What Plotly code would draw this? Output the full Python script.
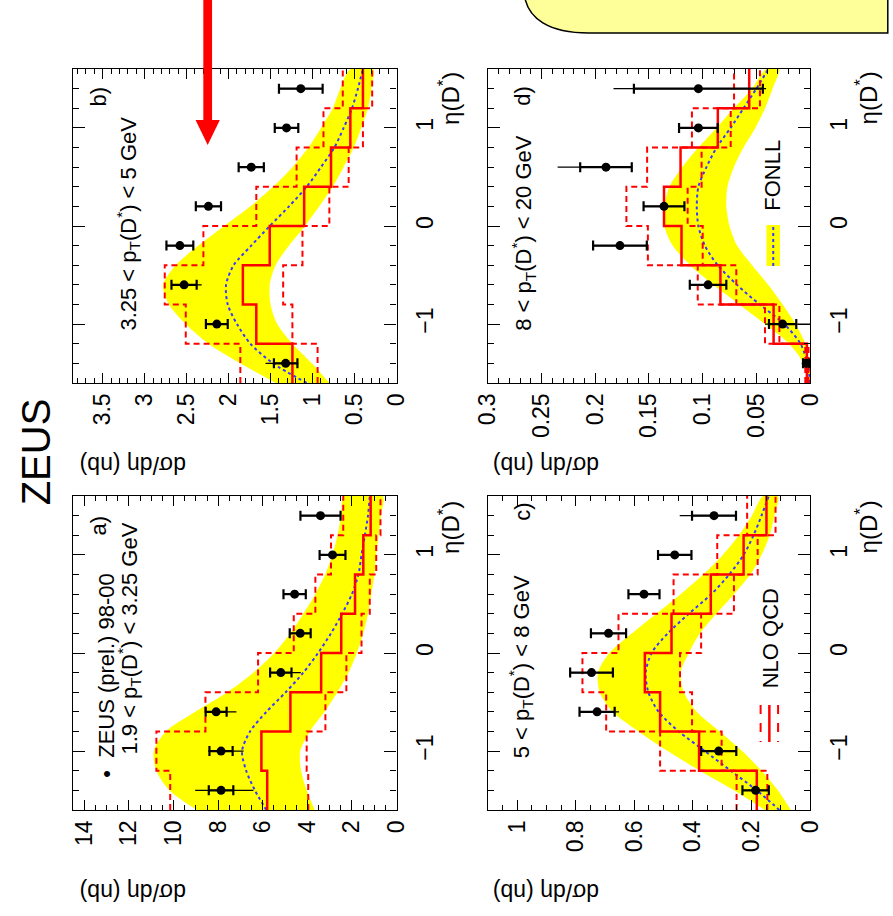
import plotly.graph_objects as go

W, H = 893, 916
FONT = "Liberation Sans, Arial, Helvetica, sans-serif"

def px(x):
    return x / W

def py(y):
    return 1 - y / H

# ---------------- data ----------------
edges = [-1.6, -1.2, -0.8, -0.4, 0.0, 0.4, 0.8, 1.2, 1.6]
eta_pts = [-1.4, -1.0, -0.6, -0.2, 0.2, 0.6, 1.0, 1.4]
eta_band = [-1.6, -1.4, -1.2, -1.0, -0.8, -0.6, -0.4, -0.2, 0.0,
            0.2, 0.4, 0.6, 0.8, 1.0, 1.2, 1.4, 1.6]

# panel a) 1.9 < pT < 3.25 GeV
a_val = [7.87, 7.87, 8.09, 5.19, 4.32, 4.57, 2.87, 3.41]
a_stat = [0.55, 0.52, 0.47, 0.48, 0.47, 0.50, 0.58, 0.90]
a_tot_up = [1.16, 0.58, 0.50, 0.50, 0.47, 0.50, 0.58, 0.90]
a_tot_dn = [1.45, 1.01, 0.91, 0.90, 0.47, 0.50, 0.58, 0.90]
a_nlo = [5.80, 6.06, 4.76, 3.38, 2.48, 1.86, 1.49, 1.16]
a_nlo_up = [10.15, 10.77, 8.57, 6.21, 4.61, 3.64, 2.94, 2.39]
a_nlo_dn = [3.96, 4.03, 3.19, 2.25, 1.57, 1.20, 0.91, 0.72]
a_fonll_up = [8.96, 10.19, 10.77, 10.89, 10.34, 9.03, 7.58, 6.42, 5.48,
              4.76, 4.18, 3.64, 3.20, 2.87, 2.65, 2.48, 2.36]
a_fonll_dn = [3.67, 4.03, 4.28, 4.32, 3.89, 3.23, 2.65, 2.15, 1.78,
              1.49, 1.28, 1.13, 0.99, 0.91, 0.80, 0.70, 0.62]
a_fonll = [5.84, 6.35, 6.74, 6.93, 6.57, 5.84, 4.97, 4.18, 3.52,
           2.94, 2.44, 2.00, 1.71, 1.57, 1.42, 1.28, 1.20]

# panel b) 3.25 < pT < 5 GeV
b_val = [1.32, 2.14, 2.53, 2.58, 2.24, 1.73, 1.31, 1.14]
b_stat = [0.14, 0.13, 0.15, 0.16, 0.15, 0.15, 0.14, 0.26]
b_tot_up = [0.24, 0.13, 0.15, 0.16, 0.15, 0.15, 0.14, 0.26]
b_tot_dn = [0.15, 0.13, 0.21, 0.16, 0.15, 0.15, 0.14, 0.26]
b_nlo = [1.24, 1.67, 1.83, 1.51, 1.10, 0.78, 0.55, 0.40]
b_nlo_up = [1.86, 2.51, 2.76, 2.30, 1.67, 1.19, 0.87, 0.64]
b_nlo_dn = [0.94, 1.24, 1.35, 1.12, 0.80, 0.57, 0.40, 0.29]
b_fonll_up = [1.44, 1.86, 2.24, 2.51, 2.71, 2.78, 2.63, 2.36, 2.05,
              1.74, 1.47, 1.24, 1.05, 0.90, 0.76, 0.67, 0.55]
b_fonll_dn = [0.80, 1.01, 1.24, 1.42, 1.50, 1.51, 1.44, 1.28, 1.09,
              0.92, 0.76, 0.63, 0.51, 0.42, 0.34, 0.30, 0.28]
b_fonll = [1.07, 1.47, 1.74, 1.90, 2.01, 2.03, 1.94, 1.73, 1.51,
           1.28, 1.07, 0.90, 0.74, 0.63, 0.53, 0.46, 0.40]

# panel c) 5 < pT < 8 GeV
c_val = [0.186, 0.312, 0.727, 0.746, 0.688, 0.567, 0.462, 0.328]
c_stat = [0.045, 0.060, 0.060, 0.073, 0.060, 0.053, 0.057, 0.075]
c_tot_up = [0.045, 0.060, 0.060, 0.073, 0.060, 0.053, 0.057, 0.117]
c_tot_dn = [0.045, 0.060, 0.075, 0.073, 0.060, 0.053, 0.057, 0.075]
c_nlo = [0.182, 0.379, 0.512, 0.564, 0.473, 0.339, 0.227, 0.149]
c_nlo_up = [0.251, 0.512, 0.696, 0.777, 0.654, 0.466, 0.317, 0.215]
c_nlo_dn = [0.146, 0.302, 0.403, 0.444, 0.372, 0.260, 0.179, 0.118]
c_fonll_up = [0.155, 0.260, 0.376, 0.486, 0.586, 0.674, 0.718, 0.724, 0.685,
              0.608, 0.525, 0.442, 0.365, 0.298, 0.243, 0.199, 0.160]
c_fonll_dn = [0.066, 0.110, 0.166, 0.232, 0.309, 0.387, 0.431, 0.442, 0.414,
              0.376, 0.320, 0.260, 0.204, 0.166, 0.138, 0.122, 0.110]
c_fonll = [0.105, 0.182, 0.271, 0.359, 0.448, 0.517, 0.552, 0.561, 0.541,
           0.486, 0.414, 0.337, 0.276, 0.227, 0.193, 0.166, 0.141]

# panel d) 8 < pT < 20 GeV
d_val = [0.0036, 0.0256, 0.095, 0.177, 0.136, 0.190, 0.104, 0.104]
d_stat = [0.003, 0.0127, 0.017, 0.025, 0.019, 0.024, 0.018, 0.060]
d_tot_up = [0.003, 0.0164, 0.017, 0.025, 0.019, 0.045, 0.018, 0.079]
d_tot_dn = [0.003, 0.0256, 0.017, 0.025, 0.019, 0.024, 0.018, 0.063]
d_nlo = [0.003, 0.034, 0.0835, 0.1197, 0.136, 0.1206, 0.0859, 0.0567]
d_nlo_up = [0.0045, 0.042, 0.1046, 0.151, 0.171, 0.1517, 0.110, 0.0708]
d_nlo_dn = [0.0015, 0.0286, 0.0687, 0.100, 0.114, 0.101, 0.0739, 0.0467]
d_fonll_up = [0.0006, 0.006, 0.0196, 0.042, 0.066, 0.090, 0.1115, 0.128, 0.1357,
              0.1357, 0.131, 0.119, 0.104, 0.087, 0.071, 0.054, 0.041]
d_fonll_dn = [0.0, 0.0006, 0.0045, 0.0136, 0.0256, 0.039, 0.054, 0.068, 0.075,
              0.078, 0.077, 0.071, 0.062, 0.051, 0.042, 0.035, 0.029]
d_fonll = [0.0, 0.0024, 0.009, 0.024, 0.047, 0.068, 0.086, 0.098, 0.104,
           0.1055, 0.104, 0.0965, 0.087, 0.074, 0.062, 0.050, 0.039]

panel_labels = ["a)", "b)", "c)", "d)"]
pt_labels = ["1.9 < p<sub>T</sub>(D<sup>*</sup>) < 3.25 GeV",
             "3.25 < p<sub>T</sub>(D<sup>*</sup>) < 5 GeV",
             "5 < p<sub>T</sub>(D<sup>*</sup>) < 8 GeV",
             "8 < p<sub>T</sub>(D<sup>*</sup>) < 20 GeV"]

# ---------------- layout geometry (pixels) ----------------
panels = {
    "a": dict(ax="", box=(61, 394, 496, 810), vmax=14.5, dtick=2, minor=0.5),
    "b": dict(ax="2", box=(61, 394, 69, 383), vmax=3.85, dtick=0.5, minor=0.1),
    "c": dict(ax="3", box=(488, 820, 496, 810), vmax=1.1, dtick=0.2, minor=0.05),
    "d": dict(ax="4", box=(488, 820, 69, 383), vmax=0.3, dtick=0.05, minor=0.01),
}
series = {
    "a": (a_val, a_stat, a_tot_up, a_tot_dn, a_nlo, a_nlo_up, a_nlo_dn, a_fonll_up, a_fonll_dn, a_fonll),
    "b": (b_val, b_stat, b_tot_up, b_tot_dn, b_nlo, b_nlo_up, b_nlo_dn, b_fonll_up, b_fonll_dn, b_fonll),
    "c": (c_val, c_stat, c_tot_up, c_tot_dn, c_nlo, c_nlo_up, c_nlo_dn, c_fonll_up, c_fonll_dn, c_fonll),
    "d": (d_val, d_stat, d_tot_up, d_tot_dn, d_nlo, d_nlo_up, d_nlo_dn, d_fonll_up, d_fonll_dn, d_fonll),
}


def step(vals):
    xs, ys = [], []
    for i, v in enumerate(vals):
        xs += [v, v]
        ys += [edges[i], edges[i + 1]]
    return xs, ys


fig = go.Figure()
RED = "#ff0000"
BLUE = "#3a3aff"
YEL = "#ffff00"

for key, p in panels.items():
    val, stat, tup, tdn, nlo, nup, ndn, fup, fdn, fc = series[key]
    xa = "x" + p["ax"]
    ya = "y" + p["ax"]
    # FONLL band
    fig.add_trace(go.Scatter(x=fup + fdn[::-1], y=eta_band + eta_band[::-1],
                             fill="toself", fillcolor=YEL, mode="lines",
                             line=dict(width=0, shape="spline", smoothing=0.8),
                             xaxis=xa, yaxis=ya, showlegend=False, hoverinfo="skip"))
    fig.add_trace(go.Scatter(x=fc, y=eta_band, mode="lines",
                             line=dict(color=BLUE, width=2, dash="dot", shape="spline", smoothing=0.8),
                             xaxis=xa, yaxis=ya, showlegend=False))
    for arr, dash, w in ((nup, "dash", 2), (ndn, "dash", 2), (nlo, "solid", 2.5)):
        xs, ys = step(arr)
        fig.add_trace(go.Scatter(x=xs, y=ys, mode="lines",
                                 line=dict(color=RED, width=w, dash=dash if dash != "dash" else "6px,4px"),
                                 xaxis=xa, yaxis=ya, showlegend=False))
    # total errors (thin)
    fig.add_trace(go.Scatter(x=val, y=eta_pts, mode="markers",
                             marker=dict(size=1, color="black"),
                             error_x=dict(type="data", symmetric=False, array=tup, arrayminus=tdn,
                                          color="black", thickness=1.2, width=0),
                             xaxis=xa, yaxis=ya, showlegend=False))
    # stat errors with caps + points
    fig.add_trace(go.Scatter(x=val, y=eta_pts, mode="markers",
                             marker=dict(size=9, color="black"),
                             error_x=dict(type="data", array=stat, color="black",
                                          thickness=2.2, width=5),
                             xaxis=xa, yaxis=ya, showlegend=False))

axis_common = dict(showgrid=False, zeroline=False, showline=True, linecolor="black",
                   linewidth=1.3, mirror="ticks", ticks="inside", tickcolor="black",
                   tickfont=dict(family=FONT, size=23, color="black"))

layout = dict(width=W, height=H, margin=dict(l=0, r=0, t=0, b=0),
              paper_bgcolor="white", plot_bgcolor="white", showlegend=False,
              font=dict(family=FONT, color="black"))

for key, p in panels.items():
    x0, x1, y0, y1 = p["box"]
    sfx = p["ax"]
    layout["xaxis" + sfx] = dict(axis_common, domain=[px(x0), px(x1)], anchor="y" + sfx,
                                 range=[p["vmax"], 0], tick0=0, dtick=p["dtick"], ticklen=10,
                                 tickwidth=1, tickangle=-90, side="bottom",
                                 minor=dict(ticks="inside", dtick=p["minor"], ticklen=5,
                                            tickcolor="black", tickwidth=1))
    layout["yaxis" + sfx] = dict(axis_common, domain=[py(y1), py(y0)], anchor="x" + sfx,
                                 range=[-1.6, 1.6], tick0=0, dtick=1, ticklen=12, tickwidth=1,
                                 tickangle=-90, side="right", ticklabelstandoff=8,
                                 minor=dict(ticks="inside", dtick=0.2, ticklen=6,
                                            tickcolor="black", tickwidth=1))

fig.update_layout(**layout)

ann = []

def text(x, y, t, size=22, angle=-90, xa="center", ya="middle"):
    ann.append(dict(x=px(x), y=py(y), xref="paper", yref="paper", text=t, showarrow=False,
                    textangle=angle, xanchor=xa, yanchor=ya,
                    font=dict(family=FONT, size=size, color="black")))

# big title
text(23, 452, "ZEUS", size=40)
# panel labels
text(87, 525, panel_labels[0]); text(87, 96, panel_labels[1])
text(523, 512, panel_labels[2]); text(523, 96, panel_labels[3])
# legend / bin text
text(95, 780, "•  ZEUS (prel.) 98-00", ya="bottom")
text(118, 757, pt_labels[0], ya="bottom")
text(117, 333, pt_labels[1], ya="bottom")
text(522, 760, pt_labels[2], ya="bottom")
text(524, 333, pt_labels[3], ya="bottom")
text(779, 690, "NLO QCD", ya="bottom")
text(781, 213, "FONLL", ya="bottom")
# axis titles
for (cx, cy) in ((122, 465), (548, 465), (122, 892), (548, 892)):
    text(cx, cy, "dσ/dη (nb)", size=23, angle=180)
for (cx, cy) in ((448, 98), (878, 98), (448, 527), (878, 527)):
    text(cx, cy, "η(D<sup>*</sup>)", size=24)

fig.update_layout(annotations=ann)

shapes = []
# NLO legend icon
for xx, d, w in ((769, "dash", 2), (778, "solid", 2.5), (787, "dash", 2)):
    shapes.append(dict(type="line", xref="paper", yref="paper", x0=px(xx), x1=px(xx),
                       y0=py(705), y1=py(742), line=dict(color=RED, width=w, dash=d)))
# FONLL legend icon
shapes.append(dict(type="rect", xref="paper", yref="paper", x0=px(775), x1=px(789),
                   y0=py(266), y1=py(225), fillcolor=YEL, line=dict(width=0)))
shapes.append(dict(type="line", xref="paper", yref="paper", x0=px(782), x1=px(782),
                   y0=py(266), y1=py(225), line=dict(color=BLUE, width=2, dash="dot")))
# red arrow
shapes.append(dict(type="rect", xref="paper", yref="paper", x0=px(195), x1=px(204),
                   y0=py(121), y1=py(-2), fillcolor=RED, line=dict(width=0)))
shapes.append(dict(type="path", xref="paper", yref="paper",
                   path=f"M {px(187)},{py(120)} L {px(212)},{py(120)} L {px(199.5)},{py(145)} Z",
                   fillcolor=RED, line=dict(width=0)))
# yellow rounded callout box at top right
shapes.append(dict(type="path", xref="paper", yref="paper",
                   path=(f"M {px(526)},{py(-3)} C {px(530)},{py(18)} {px(550)},{py(33)} {px(592)},{py(33)} "
                         f"L {px(900)},{py(33)} L {px(900)},{py(-3)} Z"),
                   fillcolor="#ffff99", line=dict(color="black", width=1.5)))
fig.update_layout(shapes=shapes)

fig.write_html("out.html")
